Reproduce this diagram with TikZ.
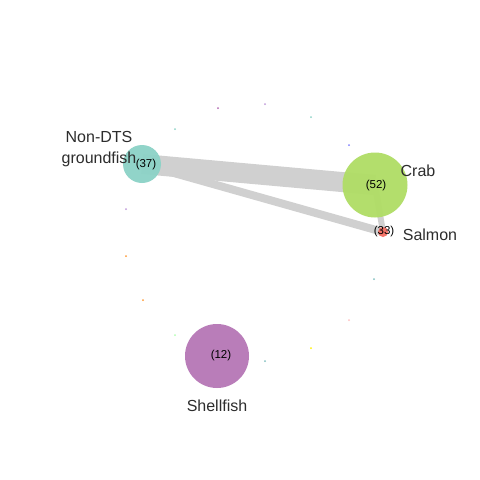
\documentclass[tikz,border=0pt]{standalone}
\usepackage{fontspec}
\setmainfont{Liberation Sans}
\pgfdeclarelayer{bg}
\pgfdeclarelayer{edges}
\pgfsetlayers{bg,edges,main}
\definecolor{cteal}{RGB}{141,211,199}
\definecolor{cgreen}{RGB}{176,221,102}
\definecolor{cred}{RGB}{244,112,100}
\definecolor{cpurple}{RGB}{183,120,183}
\definecolor{cedge}{RGB}{208,208,208}
\definecolor{ctext}{RGB}{45,45,45}
\tikzset{
  x=1pt, y=-1pt,
  vert/.style={circle, inner sep=0pt, minimum size=#1, fill opacity=0.96},
  cnt/.style={font=\fontsize{11.5}{12}\selectfont, text=black, inner sep=0pt},
  lab/.style={font=\fontsize{16}{20.5}\selectfont, text=ctext, inner sep=0pt, align=center},
  link/.style={draw=cedge, line width=#1},
  dot/.style={circle, inner sep=0pt, minimum size=2pt}
}
\begin{document}
\begin{tikzpicture}
\begin{pgfonlayer}{bg}
\fill[white] (0,0) rectangle (480,480);
\end{pgfonlayer}
\useasboundingbox (0,0) rectangle (480,480);

\node[vert=38pt, fill=cteal] (gf) at (142,164) {};
\node[vert=65pt, fill=cgreen] (crab) at (375,185) {};
\node[vert=10pt, fill=cred] (salmon) at (383,232) {};
\node[vert=64pt, fill=cpurple] (shell) at (217,356) {};

\begin{pgfonlayer}{edges}
\draw[link=20pt] (gf.center) -- (crab.center);
\draw[link=8pt] (gf.center) -- (salmon.center);
\draw[link=6pt] (crab.center) -- (salmon.center);
\end{pgfonlayer}

\node[cnt] (cgf) at (146,165) {(37)};
\node[cnt] (ccrab) at (376,186) {(52)};
\node[cnt] (csalmon) at (384,232) {(33)};
\node[cnt] (cshell) at (221,356) {(12)};

\node[lab] (lgf) at (99,149) {Non-DTS\\groundfish};
\node[lab] (lcrab) at (418,171) {Crab};
\node[lab] (lsalmon) at (430,235) {Salmon};
\node[lab] (lshell) at (217,406) {Shellfish};

\node[dot, fill=violet!60] (d1) at (218,108) {};
\node[dot, fill=blue!25!violet!40] (d2) at (265,104) {};
\node[dot, fill=cteal] (d3) at (311,117) {};
\node[dot, fill=cteal] (d4) at (175,129) {};
\node[dot, fill=blue!50] (d5) at (349,145) {};
\node[dot, fill=blue!25!violet!40] (d6) at (126,209) {};
\node[dot, fill=orange!80] (d7) at (126,256) {};
\node[dot, fill=orange!80] (d8) at (143,300) {};
\node[dot, fill=teal!50] (d9) at (374,279) {};
\node[dot, fill=pink] (d10) at (349,320) {};
\node[dot, fill=yellow] (d11) at (311,348) {};
\node[dot, fill=green!30] (d12) at (175,335) {};
\node[dot, fill=teal!50] (d13) at (265,361) {};
\end{tikzpicture}
\end{document}
